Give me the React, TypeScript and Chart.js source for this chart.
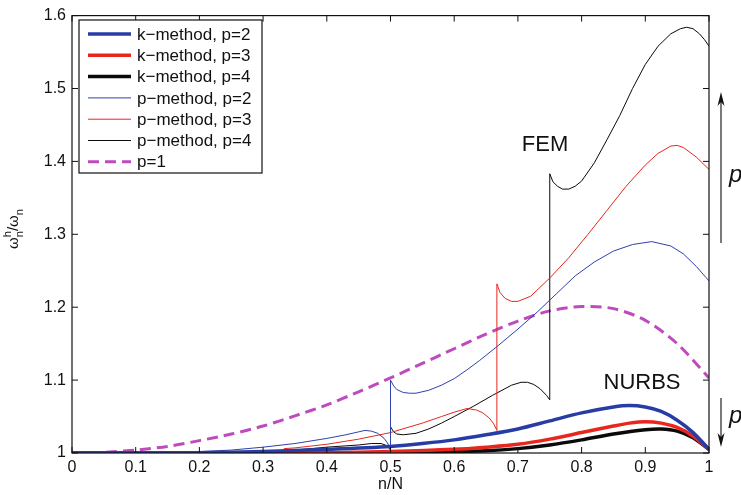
import React, { useEffect, useRef } from "react";
import { Chart, registerables } from "chart.js";
Chart.register(...registerables);

const FONT = "'Liberation Sans', Arial, Helvetica, sans-serif";

const xTicks = [0, 0.1, 0.2, 0.3, 0.4, 0.5, 0.6, 0.7, 0.8, 0.9, 1];
const xTickLabels = ["0", "0.1", "0.2", "0.3", "0.4", "0.5", "0.6", "0.7", "0.8", "0.9", "1"];
const yTicks = [1, 1.1, 1.2, 1.3, 1.4, 1.5, 1.6];
const yTickLabels = ["1", "1.1", "1.2", "1.3", "1.4", "1.5", "1.6"];

// k-method (NURBS), p=2
const k2X = [0, 0.1, 0.2, 0.3, 0.4, 0.5, 0.55, 0.6, 0.65, 0.7, 0.75, 0.8, 0.85, 0.875, 0.9, 0.925, 0.95, 0.975, 1];
const k2Y = [1, 1, 1.0005, 1.002, 1.005, 1.009, 1.013, 1.018, 1.025, 1.033, 1.044, 1.055, 1.063, 1.065, 1.063, 1.057, 1.045, 1.028, 1.005];
// k-method, p=3
const k3X = [0, 0.2, 0.4, 0.5, 0.6, 0.65, 0.7, 0.75, 0.8, 0.85, 0.875, 0.9, 0.925, 0.95, 0.975, 1];
const k3Y = [1, 1, 1.0005, 1.002, 1.005, 1.008, 1.012, 1.019, 1.028, 1.037, 1.041, 1.043, 1.041, 1.035, 1.023, 1.005];
// k-method, p=4
const k4X = [0, 0.2, 0.4, 0.5, 0.6, 0.65, 0.7, 0.75, 0.8, 0.85, 0.9, 0.925, 0.95, 0.975, 1];
const k4Y = [1, 1, 1, 1.0003, 1.002, 1.003, 1.006, 1.011, 1.018, 1.026, 1.032, 1.033, 1.03, 1.021, 1.005];

// p-method (FEM), p=2
const p2X = [0, 0.1, 0.2, 0.25, 0.3, 0.35, 0.4, 0.43, 0.45, 0.46, 0.47, 0.48, 0.49, 0.495, 0.5,
  0.5, 0.505, 0.51, 0.52, 0.53, 0.54, 0.56, 0.58, 0.6, 0.62, 0.64, 0.67, 0.7, 0.73, 0.76, 0.79, 0.82, 0.85, 0.88, 0.91, 0.94, 0.96, 0.98, 1];
const p2Y = [1, 1.0003, 1.002, 1.004, 1.008, 1.013, 1.02, 1.025, 1.029, 1.031, 1.03, 1.027, 1.02, 1.014, 1.006,
  1.1, 1.092, 1.087, 1.083, 1.082, 1.082, 1.086, 1.093, 1.102, 1.114, 1.127, 1.148, 1.17, 1.193, 1.218, 1.243, 1.262, 1.277, 1.286, 1.29, 1.284, 1.273, 1.256, 1.236];
// p-method, p=3
const p3X = [0, 0.1, 0.2, 0.25, 0.3, 0.32, 0.333,
  0.333, 0.35, 0.4, 0.45, 0.5, 0.55, 0.58, 0.6, 0.62, 0.635, 0.645, 0.655, 0.662, 0.667,
  0.667, 0.672, 0.68, 0.69, 0.7, 0.72, 0.75, 0.78, 0.81, 0.84, 0.87, 0.9, 0.92, 0.94, 0.95, 0.96, 0.98, 1];
const p3Y = [1, 1, 1, 1.0003, 1.0008, 1.001, 1.001,
  1.006, 1.007, 1.012, 1.019, 1.028, 1.041, 1.05, 1.056, 1.061, 1.059, 1.055, 1.048, 1.04, 1.031,
  1.232, 1.22, 1.212, 1.208, 1.208, 1.215, 1.24, 1.268, 1.3, 1.333, 1.366, 1.395, 1.411, 1.421, 1.422, 1.419, 1.406, 1.389];
// p-method, p=4
const p4X = [0, 0.1, 0.2, 0.25,
  0.25, 0.3, 0.35, 0.4, 0.45, 0.47, 0.485, 0.495, 0.5,
  0.5, 0.505, 0.51, 0.52, 0.54, 0.56, 0.58, 0.6, 0.63, 0.66, 0.69, 0.705, 0.715, 0.725, 0.735, 0.745, 0.75,
  0.75, 0.755, 0.762, 0.77, 0.78, 0.79, 0.8, 0.82, 0.84, 0.86, 0.88, 0.9, 0.92, 0.94, 0.955, 0.965, 0.975, 0.985, 0.993, 1];
const p4Y = [1, 1, 1, 1,
  1, 1.002, 1.004, 1.008, 1.011, 1.013, 1.013, 1.01, 1.004,
  1.036, 1.029, 1.026, 1.025, 1.027, 1.033, 1.041, 1.05, 1.064, 1.079, 1.093, 1.097, 1.097, 1.094, 1.088, 1.079, 1.073,
  1.383, 1.372, 1.366, 1.362, 1.362, 1.366, 1.373, 1.398, 1.43, 1.463, 1.5, 1.533, 1.558, 1.575, 1.582, 1.584, 1.582, 1.575, 1.567, 1.558];
// p=1
const p1X = [0, 0.05, 0.1, 0.15, 0.2, 0.25, 0.3, 0.35, 0.4, 0.45, 0.5, 0.55, 0.6, 0.65, 0.7, 0.75, 0.8, 0.85, 0.9, 0.95, 1];
const p1Y = [1, 1.001, 1.004, 1.009, 1.017, 1.026, 1.037, 1.051, 1.066, 1.084, 1.103, 1.123, 1.143, 1.163, 1.181, 1.195, 1.201, 1.198, 1.182, 1.15, 1.103];

const seriesLabels = ["k\u2212method, p=2", "k\u2212method, p=3", "k\u2212method, p=4", "p\u2212method, p=2", "p\u2212method, p=3", "p\u2212method, p=4", "p=1"];

const BLUE_THICK = "rgb(40,60,165)";
const BLUE_THIN = "rgb(45,65,175)";
const RED = "rgb(232,38,30)";
const BLACK = "rgb(10,10,10)";
const MAGENTA = "rgb(190,75,190)";

const pts = (xs: number[], ys: number[]) => xs.map((x, i) => ({ x, y: ys[i] }));

const decor = {
  id: "decor",
  afterDatasetsDraw(chart: any) {
    const { ctx, chartArea: a, scales } = chart;
    const xs = scales.x, ys = scales.y;
    ctx.save();
    ctx.strokeStyle = "#111";
    ctx.lineWidth = 1.2;
    ctx.setLineDash([]);
    ctx.strokeRect(a.left, a.top, a.right - a.left, a.bottom - a.top);
    const line = (x1: number, y1: number, x2: number, y2: number) => {
      ctx.beginPath(); ctx.moveTo(x1, y1); ctx.lineTo(x2, y2); ctx.stroke();
    };
    ctx.lineWidth = 1;
    xTicks.forEach((v) => {
      const px = xs.getPixelForValue(v);
      line(px, a.bottom, px, a.bottom - 6);
      line(px, a.top, px, a.top + 6);
    });
    yTicks.forEach((v) => {
      const py = ys.getPixelForValue(v);
      line(a.left, py, a.left + 6, py);
      line(a.right, py, a.right - 6, py);
    });

    // legend
    const lx = 79, ly = 20, lw = 183, lh = 153;
    ctx.fillStyle = "#fff";
    ctx.fillRect(lx, ly, lw, lh);
    ctx.strokeStyle = "#111";
    ctx.lineWidth = 1.2;
    ctx.strokeRect(lx, ly, lw, lh);
    ctx.font = `17px ${FONT}`;
    ctx.textBaseline = "middle";
    ctx.textAlign = "left";
    chart.data.datasets.forEach((ds: any, i: number) => {
      const yy = 34 + i * 21.3;
      ctx.strokeStyle = ds.borderColor;
      ctx.lineWidth = ds.borderWidth;
      ctx.setLineDash(ds.borderDash || []);
      line(88, yy, 131, yy);
      ctx.setLineDash([]);
      ctx.fillStyle = "#111";
      ctx.fillText(ds.label, 137, yy + 1);
    });

    // annotations
    ctx.fillStyle = "#111";
    ctx.font = `22px ${FONT}`;
    ctx.textAlign = "center";
    ctx.fillText("FEM", 545, 145);
    ctx.fillText("NURBS", 642, 383);

    // arrows
    const arrow = (x: number, y1: number, y2: number) => {
      ctx.strokeStyle = "#333";
      ctx.fillStyle = "#111";
      ctx.lineWidth = 1.3;
      const dir = y2 < y1 ? -1 : 1;
      line(x, y1, x, y2 - dir * 8);
      ctx.beginPath();
      ctx.moveTo(x, y2);
      ctx.lineTo(x - 3.5, y2 - dir * 14);
      ctx.lineTo(x, y2 - dir * 10);
      ctx.lineTo(x + 3.5, y2 - dir * 14);
      ctx.closePath();
      ctx.fill();
    };
    arrow(721, 243, 92);
    arrow(721, 398, 447);
    ctx.font = `italic 24px ${FONT}`;
    ctx.textAlign = "left";
    ctx.textBaseline = "alphabetic";
    ctx.fillStyle = "#111";
    ctx.fillText("p", 729, 182);
    ctx.fillText("p", 729, 423);

    // axis titles
    ctx.font = `16px ${FONT}`;
    ctx.textAlign = "center";
    ctx.textBaseline = "middle";
    ctx.fillText("n/N", (a.left + a.right) / 2, 485);

    ctx.save();
    ctx.translate(18, 229);
    ctx.rotate(-Math.PI / 2);
    ctx.textBaseline = "alphabetic";
    ctx.textAlign = "left";
    const big = `15px ${FONT}`, small = `11px ${FONT}`;
    ctx.font = big;
    const wW = ctx.measureText("\u03c9").width;
    const wS = ctx.measureText("/").width;
    ctx.font = small;
    const wn = ctx.measureText("n").width;
    const total = wW + wn + wS + wW + wn;
    let cx = -total / 2;
    ctx.font = big; ctx.fillText("\u03c9", cx, 0); cx += wW;
    ctx.font = small; ctx.fillText("h", cx, -7); ctx.fillText("n", cx, 5); cx += wn;
    ctx.font = big; ctx.fillText("/", cx, 0); cx += wS;
    ctx.fillText("\u03c9", cx, 0); cx += wW;
    ctx.font = small; ctx.fillText("n", cx, 5);
    ctx.restore();

    ctx.restore();
  },
};

export default function App() {
  const ref = useRef<HTMLCanvasElement>(null);
  useEffect(() => {
    const thin = { borderWidth: 1, pointRadius: 0, tension: 0, fill: false };
    const thick = { borderWidth: 3.5, pointRadius: 0, tension: 0.3, fill: false };
    const chart = new Chart(ref.current as HTMLCanvasElement, {
      type: "line",
      data: {
        datasets: [
          { label: seriesLabels[0], data: pts(k2X, k2Y), borderColor: BLUE_THICK, ...thick },
          { label: seriesLabels[1], data: pts(k3X, k3Y), borderColor: RED, ...thick },
          { label: seriesLabels[2], data: pts(k4X, k4Y), borderColor: BLACK, ...thick },
          { label: seriesLabels[3], data: pts(p2X, p2Y), borderColor: BLUE_THIN, ...thin },
          { label: seriesLabels[4], data: pts(p3X, p3Y), borderColor: RED, ...thin },
          { label: seriesLabels[5], data: pts(p4X, p4Y), borderColor: BLACK, ...thin },
          { label: seriesLabels[6], data: pts(p1X, p1Y), borderColor: MAGENTA, borderWidth: 3, borderDash: [11, 6], pointRadius: 0, tension: 0.3, fill: false },
        ] as any,
      },
      options: {
        responsive: false,
        animation: false,
        devicePixelRatio: 1,
        layout: { padding: { left: 0, right: 32, top: 15, bottom: 0 } },
        plugins: { legend: { display: false }, tooltip: { enabled: false } },
        scales: {
          x: {
            type: "linear",
            min: 0,
            max: 1,
            grid: { display: false, drawTicks: false },
            border: { display: false },
            afterBuildTicks: (s: any) => { s.ticks = xTicks.map((v) => ({ value: v })); },
            afterFit: (s: any) => { s.height = 42; },
            ticks: {
              padding: 5,
              color: "#111",
              font: { family: FONT, size: 16 },
              maxRotation: 0,
              autoSkip: false,
              callback: (_v: any, i: number) => xTickLabels[i],
            },
          },
          y: {
            type: "linear",
            min: 1,
            max: 1.6,
            grid: { display: false, drawTicks: false },
            border: { display: false },
            afterBuildTicks: (s: any) => { s.ticks = yTicks.map((v) => ({ value: v })); },
            afterFit: (s: any) => { s.width = 72; },
            ticks: {
              padding: 6,
              color: "#111",
              font: { family: FONT, size: 16 },
              autoSkip: false,
              callback: (_v: any, i: number) => yTickLabels[i],
            },
          },
        },
      } as any,
      plugins: [decor],
    });
    return () => chart.destroy();
  }, []);
  return (
    <div style={{ position: "absolute", left: 0, top: 0, width: 741, height: 495, background: "#fff" }}>
      <canvas ref={ref} width={741} height={495} style={{ width: 741, height: 495, display: "block" }} />
    </div>
  );
}
